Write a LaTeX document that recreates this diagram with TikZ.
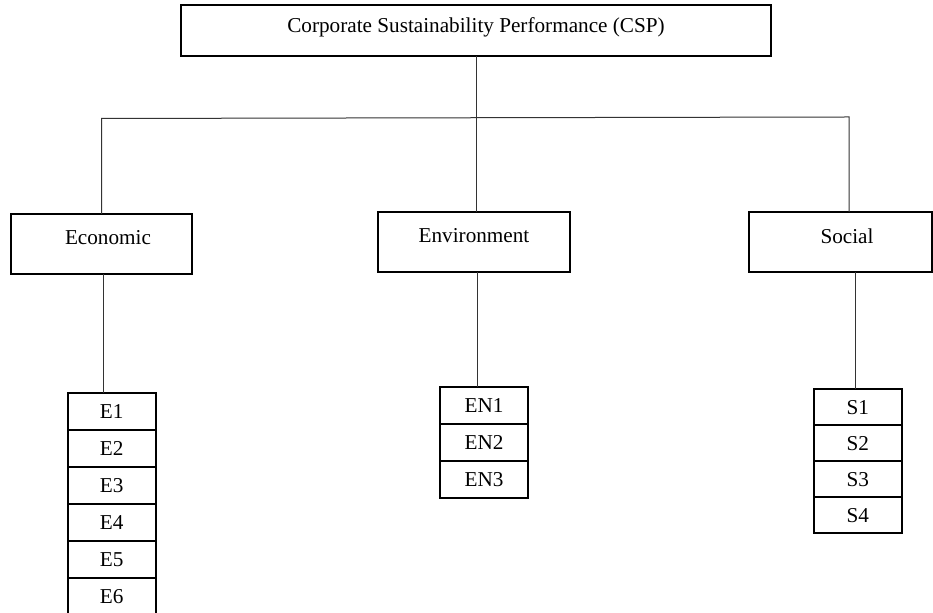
\documentclass[tikz,border=0pt]{standalone}
\usepackage{fontspec}
\setmainfont{Liberation Serif}
\usepackage{tikz}

\tikzset{
  mainbox/.style={draw, line width=1pt, inner sep=0pt, outer sep=0pt},
  itembox/.style={draw, line width=1pt, inner sep=0pt, outer sep=0pt,
    minimum width=44pt, minimum height=18.5pt},
  link/.style={line width=0.5pt, black!80}
}

\begin{document}
\begin{tikzpicture}[x=0.5pt, y=-0.5pt, font=\fontsize{10.6}{12}\selectfont]
    \useasboundingbox (0,0) rectangle (933,613);
    % top box
    \node[mainbox, minimum width=295pt, minimum height=25.5pt,
      label={[yshift=1.75pt]center:Corporate Sustainability Performance (CSP)}]
      (csp) at (476,30.5) {};
    % three dimensions
    \node[mainbox, minimum width=90.5pt, minimum height=30pt,
      label={[xshift=3.25pt, yshift=3pt]center:Economic}] (eco) at (101.5,244) {};
    \node[mainbox, minimum width=96pt, minimum height=30pt,
      label={[yshift=3pt]center:Environment}] (env) at (474,242) {};
    \node[mainbox, minimum width=91.5pt, minimum height=30pt,
      label={[xshift=3.25pt, yshift=3pt]center:Social}] (soc) at (840.5,242) {};
    % indicators
    \foreach \i in {1,...,6}{
      \node[itembox] (e\i) at (111.7, {411.8+37*(\i-1)}) {E\i};
    }
    \foreach \i in {1,...,3}{
      \node[itembox] (en\i) at (484, {405.2+37*(\i-1)}) {EN\i};
    }
    \foreach \i in {1,...,4}{
      \node[itembox, minimum height=18pt] (s\i) at (857.7, {407.3+36*(\i-1)}) {S\i};
    }
    % connectors
    \coordinate (hl) at (101,118.5);
    \coordinate (hr) at (849,117);
    \draw[link] (csp.south) -- (csp.south |- env.north);
    \draw[link] (eco.north) -- (eco.north |- hl) -- (hr) -- (hr |- soc.north);
    \draw[link] ([xshift=1pt]eco.south) -- ([xshift=1pt]eco.south |- e1.north);
    \draw[link] ([xshift=1.5pt]env.south) -- ([xshift=1.5pt]env.south |- en1.north);
    \draw[link] ([xshift=7.6pt]soc.south) -- ([xshift=7.6pt]soc.south |- s1.north);
  \end{tikzpicture}
\end{document}
